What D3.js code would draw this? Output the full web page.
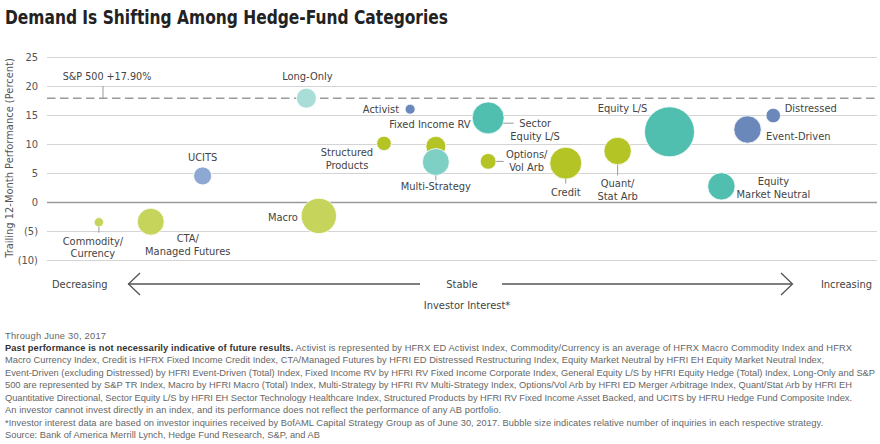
<!DOCTYPE html>
<html><head><meta charset="utf-8">
<script src="https://cdn.jsdelivr.net/npm/d3@7/dist/d3.min.js"></script>
<style>
body{margin:0;background:#fff;}
svg{display:block;}
</style></head>
<body><svg id="c" width="880" height="444"></svg>
<script>
// ---- data ----
const categories = ["Commodity/Currency","CTA/Managed Futures","UCITS","Macro","Long-Only","Activist","Structured Products","Fixed Income RV","Multi-Strategy","Sector Equity L/S","Options/Vol Arb","Credit","Quant/Stat Arb","Equity L/S","Event-Driven","Distressed","Equity Market Neutral"];
const investorInterest = [-8.75,-7.5,-6.25,-3.45,-3.75,-1.25,-1.88,-0.63,-0.63,0.63,0.63,2.5,3.75,5.0,6.88,7.5,6.25];
const performance = [-3.5,-3.4,4.5,-2.4,17.9,16.0,10.1,9.6,6.9,14.5,7.0,6.7,8.8,12.1,12.5,14.9,2.7];
const inquiries = [3.5,29,13,50,16,4,8.5,16,29,41,10,41,30,100,30,8.5,30];
const groups = ["cmdty","cmdty","ucits","cmdty","longonly","event","credit","credit","multi","equity","credit","credit","credit","equity","event","event","equity"];
const yTicks = [25,20,15,10,5,0,-5,-10];
const sp500 = 17.9;

const colors = {cmdty:"#c6d45c",credit:"#b4c424",ucits:"#8ea8d4",event:"#6b88bb",equity:"#50bfb0",longonly:"#a8ddd8",multi:"#7ecfc4"};

// label layout (offsets from bubble centre, in px)
const labelLayout = {
 "Commodity/Currency":{lines:["Commodity/","Currency"],anchor:"middle",dx:-6,dy:22.5,lead:[[0,"r"],[0,10.5]]},
 "CTA/Managed Futures":{lines:["CTA/","Managed Futures"],anchor:"middle",dx:37,dy:20.5},
 "UCITS":{lines:["UCITS"],anchor:"middle",dx:0,dy:-14.5},
 "Macro":{lines:["Macro"],anchor:"end",dx:-21,dy:5.5},
 "Long-Only":{lines:["Long-Only"],anchor:"middle",dx:1,dy:-18.5},
 "Activist":{lines:["Activist"],anchor:"end",dx:-11,dy:3.5},
 "Structured Products":{lines:["Structured","Products"],anchor:"middle",dx:-37,dy:12.5},
 "Fixed Income RV":{lines:["Fixed Income RV"],anchor:"middle",dx:-6,dy:-18},
 "Multi-Strategy":{lines:["Multi-Strategy"],anchor:"middle",dx:0,dy:28.5,lead:[[0,"r"],[0,18.5]]},
 "Sector Equity L/S":{lines:["Sector","Equity L/S"],anchor:"middle",dx:47,dy:9,lead:[[15.2,5.3],[25.5,5.3]]},
 "Options/Vol Arb":{lines:["Options/","Vol Arb"],anchor:"middle",dx:38.5,dy:-3,lead:[[8,0],[15.5,0]]},
 "Credit":{lines:["Credit"],anchor:"middle",dx:0,dy:33,lead:[[0,"r"],[0,20.5]]},
 "Quant/Stat Arb":{lines:["Quant/","Stat Arb"],anchor:"middle",dx:0,dy:36.5,lead:[[0,"r"],[0,24.5]]},
 "Equity L/S":{lines:["Equity L/S"],anchor:"middle",dx:-47,dy:-19.5},
 "Event-Driven":{lines:["Event-Driven"],anchor:"start",dx:18.5,dy:10.5},
 "Distressed":{lines:["Distressed"],anchor:"start",dx:11.5,dy:-3.5},
 "Equity Market Neutral":{lines:["Equity","Market Neutral"],anchor:"middle",dx:52,dy:-1}
};

const footLines = [
 [{t:"Through June 30, 2017"}],
 [{t:"Past performance is not necessarily indicative of future results.",b:true},{t:" Activist is represented by HFRX ED Activist Index, Commodity/Currency is an average of HFRX Macro Commodity Index and HFRX"}],
 [{t:"Macro Currency Index, Credit is HFRX Fixed Income Credit Index, CTA/Managed Futures by HFRI ED Distressed Restructuring Index, Equity Market Neutral by HFRI EH Equity Market Neutral Index,"}],
 [{t:"Event-Driven (excluding Distressed) by HFRI Event-Driven (Total) Index, Fixed Income RV by HFRI RV Fixed Income Corporate Index, General Equity L/S by HFRI Equity Hedge (Total) Index, Long-Only and S&P"}],
 [{t:"500 are represented by S&P TR Index, Macro by HFRI Macro (Total) Index, Multi-Strategy by HFRI RV Multi-Strategy Index, Options/Vol Arb by HFRI ED Merger Arbitrage Index, Quant/Stat Arb by HFRI EH"}],
 [{t:"Quantitative Directional, Sector Equity L/S by HFRI EH Sector Technology Healthcare Index, Structured Products by HFRI RV Fixed Income Asset Backed, and UCITS by HFRU Hedge Fund Composite Index."}],
 [{t:"An investor cannot invest directly in an index, and its performance does not reflect the performance of any AB portfolio."}],
 [{t:"*Investor interest data are based on investor inquiries received by BofAML Capital Strategy Group as of June 30, 2017. Bubble size indicates relative number of inquiries in each respective strategy."}],
 [{t:"Source: Bank of America Merrill Lynch, Hedge Fund Research, S&P, and AB"}]
];
const footEnds = [106,852,824,875,852,852,501,823,320];

// ---- chart ----
const svg = d3.select("#c");
const lblFont = "'DejaVu Sans Condensed','DejaVu Sans',sans-serif";
const x = d3.scaleLinear().domain([-10,10]).range([47,877]);
const y = d3.scaleLinear().domain([-10,25]).range([260,57]);
const r = d3.scaleSqrt().domain([0,100]).range([0,25]);

svg.append("text").attr("x",5).attr("y",24)
  .attr("textLength",443).attr("lengthAdjust","spacingAndGlyphs")
  .style("font-family","'DejaVu Sans Condensed',sans-serif")
  .style("font-weight","bold").style("font-size","19.5px").style("fill","#222")
  .text("Demand Is Shifting Among Hedge-Fund Categories");

// grid
const yAxis = d3.axisLeft(y).tickValues(yTicks).tickSize(-(877-47))
  .tickFormat(d => d<0 ? "("+Math.abs(d)+")" : d);
const ga = svg.append("g").attr("transform","translate(47,0)").call(yAxis);
ga.select(".domain").remove();
ga.selectAll(".tick line").attr("stroke",d=>d===0?"#9a9a9a":"#d4d4d4").attr("stroke-width",d=>d===0?1.3:1);
ga.selectAll(".tick text").attr("x",-9).style("font-family",lblFont).style("font-size","11px").style("fill","#555");

svg.append("text").attr("transform","translate(13,158) rotate(-90)").attr("text-anchor","middle")
  .style("font-family",lblFont).style("font-size","11px").style("fill","#555")
  .text("Trailing 12-Month Performance (Percent)");

// S&P line
svg.append("line").attr("x1",47).attr("x2",877).attr("y1",y(sp500)).attr("y2",y(sp500))
  .attr("stroke","#9a9a9a").attr("stroke-width",1.5).attr("stroke-dasharray","8.5,4.5");
svg.append("line").attr("x1",103).attr("x2",103).attr("y1",86).attr("y2",y(sp500))
  .attr("stroke","#9a9a9a").attr("stroke-width",1);
svg.append("text").attr("x",107).attr("y",79.5).attr("text-anchor","middle")
  .style("font-family",lblFont).style("font-size","10.7px").style("fill","#444")
  .text("S&P 500 +17.90%");

// bubbles
const data = categories.map((c,i)=>({name:c,xv:investorInterest[i],yv:performance[i],s:inquiries[i],g:groups[i]}));
svg.append("g").selectAll("circle").data(data).join("circle")
  .attr("cx",d=>x(d.xv)).attr("cy",d=>y(d.yv)).attr("r",d=>r(d.s))
  .attr("fill",d=>colors[d.g]).attr("stroke","#fff").attr("stroke-width",0.8);

// labels
const lg = svg.append("g");
data.forEach(d=>{
  const L = labelLayout[d.name]; if(!L) return;
  const cx = x(d.xv), cy = y(d.yv), rr = r(d.s);
  if(L.lead){
    const p = L.lead.map(([a,b])=>[cx+a, cy+(b==="r"?rr:b)]);
    lg.append("line").attr("x1",p[0][0]).attr("y1",p[0][1]).attr("x2",p[1][0]).attr("y2",p[1][1])
      .attr("stroke","#999").attr("stroke-width",1);
  }
  const t = lg.append("text").attr("text-anchor",L.anchor)
    .style("font-family",lblFont).style("font-size","11px").style("fill","#444");
  L.lines.forEach((ln,k)=>{
    t.append("tspan").attr("x",cx+L.dx).attr("y",cy+L.dy+k*12.6).text(ln);
  });
});

// investor interest arrows
const ay = 284;
const ag = svg.append("g").attr("stroke","#555").attr("stroke-width",1.3).attr("fill","none");
ag.append("line").attr("x1",128).attr("x2",420).attr("y1",ay).attr("y2",ay);
ag.append("polyline").attr("points",`140,${ay-11} 128.5,${ay} 140,${ay+11}`);
ag.append("line").attr("x1",502).attr("x2",792).attr("y1",ay).attr("y2",ay);
ag.append("polyline").attr("points",`781,${ay-11} 792.5,${ay} 781,${ay+11}`);
const axt = (tx,ty,anchor,s)=>svg.append("text").attr("x",tx).attr("y",ty).attr("text-anchor",anchor)
  .style("font-family",lblFont).style("font-size","11px").style("fill","#444").text(s);
axt(52,ay+4,"start","Decreasing");
axt(462,ay+4,"middle","Stable");
axt(872,ay+4,"end","Increasing");
axt(467,309,"middle","Investor Interest*");

// footnotes
const fg = svg.append("g").style("font-family","'Liberation Sans',Arial,sans-serif").style("font-size","9.3px").style("fill","#666");
footLines.forEach((segs,i)=>{
  const t = fg.append("text").attr("x",5).attr("y",338.5+i*12.45)
    .attr("textLength",footEnds[i]-5).attr("lengthAdjust","spacing");
  segs.forEach(s=>{ t.append("tspan").text(s.t).style("font-weight",s.b?"bold":"normal").style("fill",s.b?"#333":"#666"); });
});
</script></body></html>
